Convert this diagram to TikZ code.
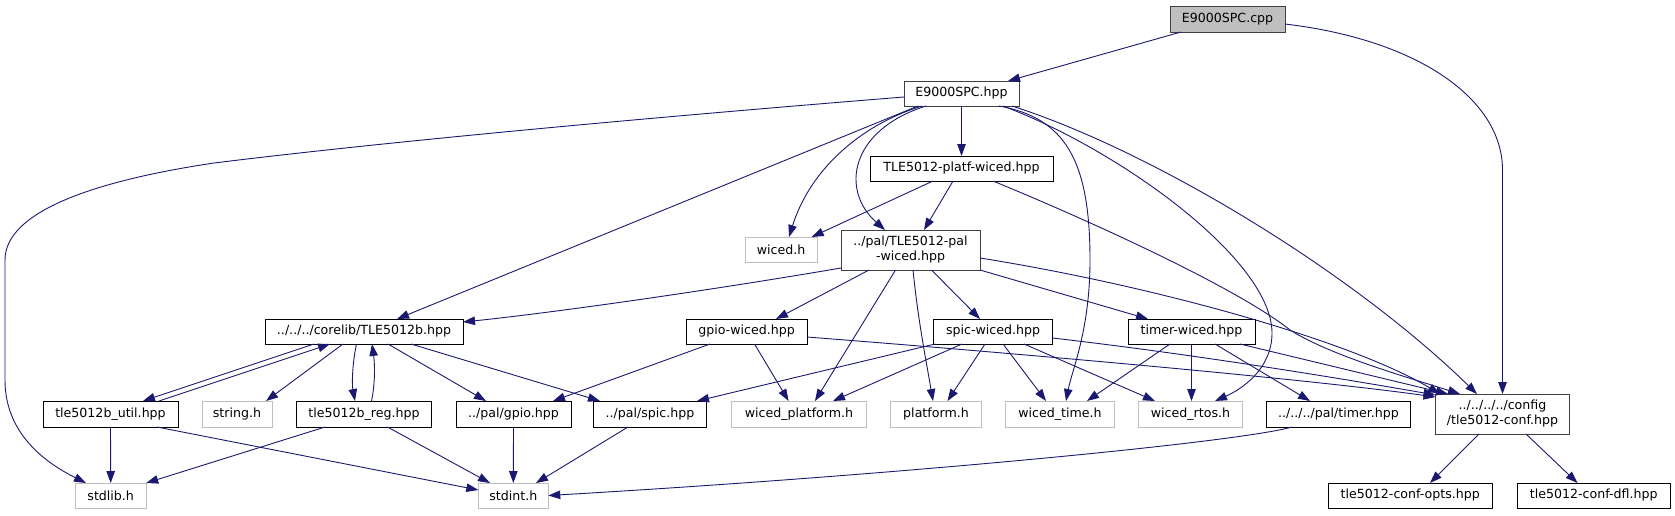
\documentclass[tikz,border=0pt]{standalone}
\usepackage{fontspec}
\setmainfont{DejaVu Sans}
\usetikzlibrary{arrows.meta}
\definecolor{edgeblue}{HTML}{191970}
\definecolor{greyb}{HTML}{BFBFBF}
\definecolor{darkb}{HTML}{404040}
\begin{document}
\begin{tikzpicture}[x=1pt,y=-1pt,
  box/.style={draw=black,line width=1pt,rectangle,inner sep=0pt,outer sep=0pt,minimum height=25pt,
    font=\fontsize{12.6}{15}\selectfont,align=center,fill=white},
  sysbox/.style={box,draw=greyb},
  dbox/.style={box,draw=darkb},
  dep/.style={draw=edgeblue,line width=0.9pt,-{Triangle[length=12pt,width=8.5pt]},fill=none}]
\useasboundingbox (0,0) rectangle (1675,515);

% nodes
\node[dbox,fill=greyb,minimum width=115pt,minimum height=26pt] (cpp) at (1227.5,19) {E9000SPC.cpp};
\node[dbox,minimum width=115pt] (hpp) at (961.5,93.5) {E9000SPC.hpp};
\node[box,minimum width=183pt] (platf) at (961.5,168.5) {TLE5012-platf-wiced.hpp};
\node[sysbox,minimum width=72pt] (wicedh) at (781,249.5) {wiced.h};
\node[dbox,minimum width=139pt,minimum height=40pt] (palw) at (910.5,250) {../pal/TLE5012-pal\\-wiced.hpp};
\node[box,minimum width=198pt] (corelib) at (364,331.5) {../../../corelib/TLE5012b.hpp};
\node[box,minimum width=121pt] (gpiow) at (746.5,331.5) {gpio-wiced.hpp};
\node[box,minimum width=119pt] (spicw) at (993,331.5) {spic-wiced.hpp};
\node[box,minimum width=127pt] (timerw) at (1191.5,331.5) {timer-wiced.hpp};
\node[box,minimum width=135pt,minimum height=26pt] (util) at (110.5,414) {tle5012b\_util.hpp};
\node[sysbox,minimum width=70pt,minimum height=26pt] (stringh) at (237,414) {string.h};
\node[box,minimum width=135pt,minimum height=26pt] (reg) at (364,414) {tle5012b\_reg.hpp};
\node[box,minimum width=115pt,minimum height=26pt] (gpio) at (513.5,414) {../pal/gpio.hpp};
\node[box,minimum width=113pt,minimum height=26pt] (spic) at (650,414) {../pal/spic.hpp};
\node[sysbox,minimum width=135pt,minimum height=26pt] (wplat) at (799,414) {wiced\_platform.h};
\node[sysbox,minimum width=91pt,minimum height=26pt] (plat) at (936,414) {platform.h};
\node[sysbox,minimum width=109pt,minimum height=26pt] (wtime) at (1060,414) {wiced\_time.h};
\node[sysbox,minimum width=104pt,minimum height=26pt] (wrtos) at (1190.5,414) {wiced\_rtos.h};
\node[box,minimum width=144pt,minimum height=26pt] (timerhpp) at (1338.5,414) {../../../pal/timer.hpp};
\node[dbox,minimum width=134pt,minimum height=40pt] (conf) at (1502.5,414) {../../../../config\\/tle5012-conf.hpp};
\node[sysbox,minimum width=71pt] (stdlib) at (110.7,495.5) {stdlib.h};
\node[sysbox,minimum width=70pt] (stdint) at (513.3,495.5) {stdint.h};
\node[box,minimum width=164pt] (opts) at (1410.3,495.5) {tle5012-conf-opts.hpp};
\node[box,minimum width=153pt] (dfl) at (1593.7,495.5) {tle5012-conf-dfl.hpp};

% E9000SPC.cpp
\draw[dep] ([xshift=-46.5pt]cpp.south) -- ([xshift=46.5pt]hpp.north);
\draw[dep] ([yshift=-5pt]cpp.east) .. controls (1420,40) and (1502.5,100) .. (1502.5,170) -- (conf.north);

% E9000SPC.hpp
\draw[dep] ([yshift=-3.5pt]hpp.west) .. controls (680,115) and (400,140) .. (214,163)
   .. controls (100,180) and (5,210) .. (5,260) -- (5,380)
   .. controls (5,430) and (40,460) .. ([xshift=-24.7pt]stdlib.north);
\draw[dep] ([xshift=-43.5pt]hpp.south) -- ([xshift=33pt]corelib.north);
\draw[dep] ([xshift=-39.5pt]hpp.south) .. controls (860,125) and (810,170) .. ([xshift=8pt]wicedh.north);
\draw[dep] ([xshift=-35.5pt]hpp.south) .. controls (850,130) and (840,190) .. ([xshift=-25.5pt]palw.north);
\draw[dep] (hpp.south) -- (platf.north);
\draw[dep] ([xshift=37.5pt]hpp.south) .. controls (1065,118) and (1090,160) .. (1090,260)
   .. controls (1090,330) and (1072,370) .. ([xshift=6pt]wtime.north);
\draw[dep] ([xshift=41.5pt]hpp.south) .. controls (1120,150) and (1272,260) .. (1272,333)
   .. controls (1272,370) and (1240,390) .. ([xshift=24.5pt]wrtos.north);
\draw[dep] ([xshift=50.5pt]hpp.south) .. controls (1150,150) and (1350,270) .. ([xshift=-25.5pt]conf.north);

% TLE5012-platf-wiced.hpp
\draw[dep] ([xshift=-28.5pt]platf.south) -- ([xshift=30.7pt]wicedh.north);
\draw[dep] ([xshift=-8.5pt]platf.south) -- ([xshift=13.5pt]palw.north);
\draw[dep] ([xshift=31.5pt]platf.south) .. controls (1100,225) and (1240,290) .. (1290,330)
   .. controls (1330,355) and (1400,375) .. ([xshift=-42.5pt]conf.north);

% ../pal/TLE5012-pal-wiced.hpp
\draw[dep] ([yshift=-18pt]palw.west) .. controls (700,292) and (550,313) .. ([yshift=9.5pt]corelib.east);
\draw[dep] ([xshift=-41.5pt]palw.south) -- ([xshift=29.5pt]gpiow.north);
\draw[dep] ([xshift=-15pt]palw.south) -- ([xshift=16pt]wplat.north);
\draw[dep] ([xshift=2.5pt]palw.south) .. controls (918,320) and (926,360) .. ([xshift=-3pt]plat.north);
\draw[dep] ([xshift=21pt]palw.south) -- ([xshift=-13pt]spicw.north);
\draw[dep] ([yshift=-20pt]palw.east) -- ([xshift=-43.5pt]timerw.north);
\draw[dep] ([yshift=-8pt]palw.east) .. controls (1150,285) and (1350,340) .. ([xshift=-62.5pt]conf.north);

% gpio-wiced.hpp
\draw[dep] ([xshift=-36.5pt]gpiow.south) -- ([xshift=39.5pt]gpio.north);
\draw[dep] ([xshift=8pt]gpiow.south) -- ([xshift=-10.4pt]wplat.north);
\draw[dep] ([yshift=-5.5pt]gpiow.east) .. controls (1000,352) and (1300,378) .. ([yshift=17pt]conf.west);

% spic-wiced.hpp
\draw[dep] ([xshift=-58pt]spicw.south) -- ([xshift=47pt]spic.north);
\draw[dep] ([xshift=-31pt]spicw.south) -- ([xshift=34pt]wplat.north);
\draw[dep] ([xshift=-8pt]spicw.south) -- ([xshift=11.5pt]plat.north);
\draw[dep] ([xshift=10pt]spicw.south) -- ([xshift=-14pt]wtime.north);
\draw[dep] ([xshift=31pt]spicw.south) -- ([xshift=-35.5pt]wrtos.north);
\draw[dep] ([yshift=-6.5pt]spicw.east) .. controls (1200,355) and (1350,380) .. ([yshift=19pt]conf.west);

% timer-wiced.hpp
\draw[dep] ([xshift=-21.5pt]timerw.south) -- ([xshift=27pt]wtime.north);
\draw[dep] (timerw.south) -- ([xshift=1pt]wrtos.north);
\draw[dep] ([xshift=23.5pt]timerw.south) -- ([xshift=-28.5pt]timerhpp.north);
\draw[dep] ([xshift=48.5pt]timerw.south) -- ([xshift=-54.5pt]conf.north);

% ../../../pal/timer.hpp
\draw[dep] ([xshift=-46.5pt]timerhpp.south) .. controls (1240,442) and (900,475) .. (stdint.east);

% corelib
\draw[dep] ([xshift=-50pt]corelib.south) -- ([xshift=32.5pt]util.north);
\draw[dep] ([xshift=48.5pt]util.north) -- ([xshift=-34pt]corelib.south);
\draw[dep] ([xshift=-21pt]corelib.south) -- ([xshift=29pt]stringh.north);
\draw[dep] ([xshift=-7.5pt]corelib.south) .. controls (352,365) and (352,385) .. ([xshift=-9pt]reg.north);
\draw[dep] ([xshift=7.5pt]reg.north) .. controls (375,385) and (375,365) .. ([xshift=8pt]corelib.south);
\draw[dep] ([xshift=24pt]corelib.south) -- ([xshift=-27.5pt]gpio.north);
\draw[dep] ([xshift=47pt]corelib.south) -- ([xshift=-50pt]spic.north);

% bottom row
\draw[dep] (gpio.south) -- (stdint.north);
\draw[dep] ([xshift=-22pt]spic.south) -- ([xshift=22.7pt]stdint.north);
\draw[dep] (util.south) -- (stdlib.north);
\draw[dep] ([xshift=46.5pt]util.south) -- ([yshift=5.5pt]stdint.west);
\draw[dep] ([xshift=-39pt]reg.south) -- (stdlib.north east);
\draw[dep] ([xshift=23.5pt]reg.south) -- ([xshift=-23.3pt]stdint.north);

% config
\draw[dep] ([xshift=-23.5pt]conf.south) -- ([xshift=19.7pt]opts.north);
\draw[dep] ([xshift=23.5pt]conf.south) -- ([xshift=-16.2pt]dfl.north);
\end{tikzpicture}
\end{document}
